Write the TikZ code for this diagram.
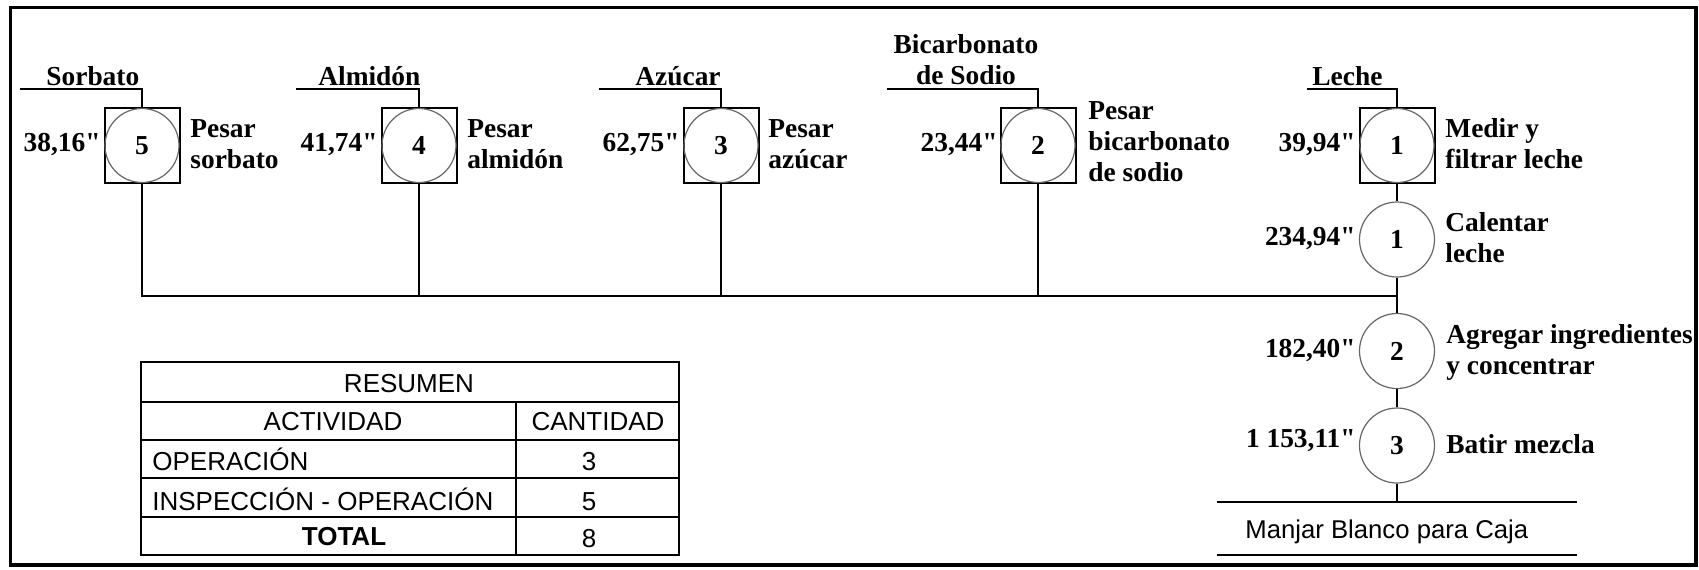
\documentclass[tikz,border=0pt]{standalone}
\usepackage{fontspec}
\setmainfont{Liberation Serif}[Ligatures=TeXOff]
\newfontfamily\arialf{Liberation Sans}
\newcommand{\mlL}[1]{\begin{tabular}[t]{@{}l@{}}#1\end{tabular}}
\newcommand{\mlC}[1]{\begin{tabular}[t]{@{}c@{}}#1\end{tabular}}
\begin{document}
\begin{tikzpicture}[x=0.5pt,y=-0.5pt,
  lbl/.style={font=\bfseries\fontsize{13.7}{15.6}\selectfont, inner sep=0pt},
  tbl/.style={font=\arialf\fontsize{13}{15}\selectfont, inner sep=0pt},
  insp/.style={draw, line width=1pt, minimum size=37.5pt, inner sep=0pt},
  circ/.style={circle, draw=black!60, line width=0.6pt, minimum size=37pt, inner sep=0pt,
    font=\bfseries\fontsize{13.7}{15.6}\selectfont},
  opc/.style={circ, minimum size=37.5pt},
  conn/.style={line width=1pt}]
\useasboundingbox (0,0) rectangle (1699,569);
\draw[line width=1.8pt] (10.5,7.5) rectangle (1696,565);

% inspection-operation boxes
\node[insp] (s5) at (142,145.5) {};
\node[circ] (c5) at (s5.center) {5};
\node[insp] (s4) at (419,145.5) {};
\node[circ] (c4) at (s4.center) {4};
\node[insp] (s3) at (721,145.5) {};
\node[circ] (c3) at (s3.center) {3};
\node[insp] (s2) at (1038,145.5) {};
\node[circ] (c2) at (s2.center) {2};
\node[insp] (s1) at (1397,145.5) {};
\node[circ] (c1) at (s1.center) {1};

% operations
\node[opc] (o1) at (1397,239.5) {1};
\node[opc] (o2) at (1397,351) {2};
\node[opc] (o3) at (1397,445.5) {3};

% input lines
\coordinate (in5) at (20,89);
\coordinate (in4) at (296,89);
\coordinate (in3) at (599,89);
\coordinate (in2) at (887,89);
\coordinate (in1) at (1307,89);
\draw[conn] (in5) -| (s5.north);
\draw[conn] (in4) -| (s4.north);
\draw[conn] (in3) -| (s3.north);
\draw[conn] (in2) -| (s2.north);
\draw[conn] (in1) -| (s1.north);

% bus
\coordinate (bus) at (1397,296);
\draw[conn] (s5.south) |- (bus);
\draw[conn] (s4.south) -- (s4.south |- bus);
\draw[conn] (s3.south) -- (s3.south |- bus);
\draw[conn] (s2.south) -- (s2.south |- bus);
\draw[conn] (s1.south) -- (o1.north);
\draw[conn] (o1.south) -- (o2.north);
\draw[conn] (o2.south) -- (o3.north);
\coordinate (out) at (1397,502);
\draw[conn] (o3.south) -- (out);
\coordinate (pl) at (1217,502);
\coordinate (pr) at (1577,502);
\coordinate (ql) at (1217,555);
\coordinate (qr) at (1577,555);
\draw[conn] (pl) -- (pr);
\draw[conn] (ql) -- (qr);
\node[tbl, font=\arialf\fontsize{12.85}{15}\selectfont, anchor=base west] (prod) at (1245,538) {Manjar Blanco para Caja};

% material names
\node[lbl, anchor=base west] (tSorb) at (46,85) {Sorbato};
\node[lbl, anchor=base west] (tAlm) at (318,85) {Almidón};
\node[lbl, anchor=base west] (tAzu) at (635,85) {Azúcar};
\node[lbl, anchor=base] (tBic) at (966,53) {\mlC{Bicarbonato\\de Sodio}};
\node[lbl, anchor=base west] (tLec) at (1312,85) {Leche};

% times
\node[lbl, anchor=base east] (t5) at (101,151) {38,16"};
\node[lbl, anchor=base east] (t4) at (378,151) {41,74"};
\node[lbl, anchor=base east] (t3) at (680,151) {62,75"};
\node[lbl, anchor=base east] (t2) at (998,151) {23,44"};
\node[lbl, anchor=base east] (t1) at (1356,151) {39,94"};
\node[lbl, anchor=base east] (to1) at (1356,245) {234,94"};
\node[lbl, anchor=base east] (to2) at (1356,357) {182,40"};
\node[lbl, anchor=base east] (to3) at (1356,447) {1 153,11"};

% descriptions
\node[lbl, anchor=base west] (d5) at (190,137) {\mlL{Pesar\\sorbato}};
\node[lbl, anchor=base west] (d4) at (467,137) {\mlL{Pesar\\almidón}};
\node[lbl, anchor=base west] (d3) at (768,137) {\mlL{Pesar\\azúcar}};
\node[lbl, anchor=base west] (d2) at (1088,119) {\mlL{Pesar\\bicarbonato\\de sodio}};
\node[lbl, anchor=base west] (d1) at (1445,137) {\mlL{Medir y\\filtrar leche}};
\node[lbl, anchor=base west] (do1) at (1445,231) {\mlL{Calentar\\leche}};
\node[lbl, anchor=base west] (do2) at (1446,343) {\mlL{Agregar ingredientes\\y concentrar}};
\node[lbl, anchor=base west] (do3) at (1446,453) {Batir mezcla};

% summary table
\draw[conn] (141,362) rectangle (679,555);
\foreach \yy in {402,440,478,517} \draw[conn] (141,\yy) -- (679,\yy);
\draw[conn] (516,402) -- (516,555);
\node[tbl, anchor=base] (rRes) at (409,392) {RESUMEN};
\node[tbl, anchor=base] (rAct) at (333,430) {ACTIVIDAD};
\node[tbl, anchor=base] (rCan) at (598,430) {CANTIDAD};
\node[tbl, anchor=base west] (rOp) at (152,470) {OPERACIÓN};
\node[tbl, anchor=base west] (rIn) at (152,510) {INSPECCIÓN - OPERACIÓN};
\node[tbl, anchor=base, font=\arialf\bfseries\fontsize{13}{15}\selectfont] (rTot) at (344,545) {TOTAL};
\node[tbl, anchor=base] (v3) at (589,470) {3};
\node[tbl, anchor=base] (v5) at (589,510) {5};
\node[tbl, anchor=base] (v8) at (589,547) {8};
\end{tikzpicture}
\end{document}
